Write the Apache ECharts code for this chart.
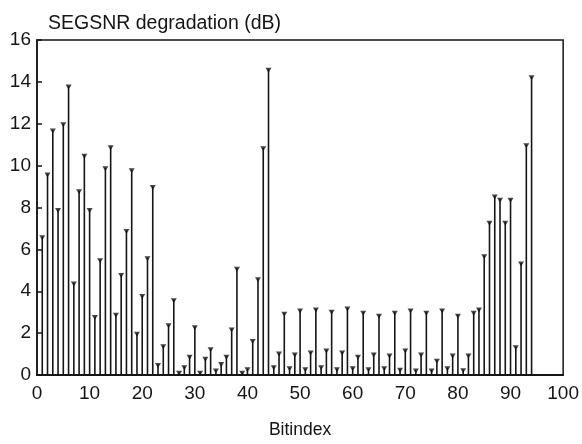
<!DOCTYPE html>
<html>
<head>
<meta charset="utf-8">
<script src="https://cdn.jsdelivr.net/npm/echarts@6/dist/echarts.min.js"></script>
<style>
  html, body { margin: 0; padding: 0; background: #ffffff; }
  #chart { width: 582px; height: 444px; }
</style>
</head>
<body>
<div id="chart"></div>
<script>
// Bit positions (x) and the SEGSNR degradation caused by an error in each bit (dB)
const bitIndex = [
  1, 2, 3, 4, 5, 6, 7, 8, 9, 10,
  11, 12, 13, 14, 15, 16, 17, 18, 19, 20,
  21, 22, 23, 24, 25, 26, 27, 28, 29, 30,
  31, 32, 33, 34, 35, 36, 37, 38, 39, 40,
  41, 42, 43, 44, 45, 46, 47, 48, 49, 50,
  51, 52, 53, 54, 55, 56, 57, 58, 59, 60,
  61, 62, 63, 64, 65, 66, 67, 68, 69, 70,
  71, 72, 73, 74, 75, 76, 77, 78, 79, 80,
  81, 82, 83, 84, 85, 86, 87, 88, 89, 90,
  91, 92, 93, 94
];
const degradation = [
  6.6, 9.6, 11.7, 7.9, 12.0, 13.8, 4.4, 8.8, 10.5, 7.9,
  2.8, 5.5, 9.9, 10.9, 2.9, 4.8, 6.9, 9.8, 2.0, 3.8,
  5.6, 9.0, 0.5, 1.4, 2.4, 3.6, 0.13, 0.4, 0.9, 2.3,
  0.13, 0.8, 1.25, 0.24, 0.55, 0.9, 2.2, 5.1, 0.13, 0.3,
  1.65, 4.6, 10.85, 14.6, 0.4, 1.05, 2.95, 0.35, 1.0, 3.1,
  0.3, 1.1, 3.15, 0.4, 1.2, 3.05, 0.3, 1.1, 3.2, 0.35,
  0.9, 3.0, 0.3, 1.0, 2.85, 0.35, 0.95, 3.0, 0.28, 1.2,
  3.1, 0.24, 1.0, 3.0, 0.24, 0.7, 3.1, 0.35, 0.95, 2.85,
  0.25, 0.95, 3.0, 3.15, 5.7, 7.3, 8.55, 8.4, 7.3, 8.4,
  1.35, 5.35, 11.0, 14.25
];
const xTicks = [0, 10, 20, 30, 40, 50, 60, 70, 80, 90, 100];
const yTicks = [0, 2, 4, 6, 8, 10, 12, 14, 16];

const points = bitIndex.map((b, i) => [b, degradation[i]]);
const ink = '#151515';
const font = 'Liberation Sans, Arial, Helvetica, sans-serif';

const chart = echarts.init(document.getElementById('chart'), null, { renderer: 'canvas' });
chart.setOption({
  animation: false,
  backgroundColor: '#ffffff',
  title: {
    text: 'SEGSNR degradation (dB)',
    left: 43,
    top: 9,
    textStyle: { fontFamily: font, fontSize: 19.5, fontWeight: 'normal', color: ink }
  },
  grid: {
    left: 37, right: 10, top: 40, bottom: 64,
    show: true, borderColor: ink, borderWidth: 1.5, backgroundColor: 'transparent'
  },
  xAxis: {
    type: 'value',
    min: xTicks[0],
    max: xTicks[xTicks.length - 1],
    interval: 10,
    name: 'Bitindex',
    nameLocation: 'middle',
    nameGap: 46,
    nameTextStyle: { fontFamily: font, fontSize: 17.5, color: ink },
    axisLine: { show: true, lineStyle: { color: ink, width: 2 } },
    axisTick: { show: false },
    splitLine: { show: false },
    axisLabel: {
      fontFamily: font, fontSize: 19, color: ink, margin: 9,
      formatter: v => (xTicks.indexOf(v) >= 0 ? String(v) : '')
    }
  },
  yAxis: {
    type: 'value',
    min: yTicks[0],
    max: yTicks[yTicks.length - 1],
    interval: 2,
    axisLine: { show: true, lineStyle: { color: ink, width: 1.5 } },
    axisTick: { show: true, inside: true, length: 5, lineStyle: { color: ink, width: 1.5 } },
    splitLine: { show: false },
    axisLabel: {
      fontFamily: font, fontSize: 19, color: ink, margin: 6,
      formatter: v => (yTicks.indexOf(v) >= 0 ? String(v) : '')
    }
  },
  series: [
    {
      // stems
      type: 'bar',
      data: points,
      barWidth: 1.6,
      itemStyle: { color: ink },
      silent: true,
      z: 2
    },
    {
      // marker heads at the top of each stem
      type: 'scatter',
      data: points,
      symbol: 'triangle',
      symbolRotate: 180,
      symbolSize: [6, 5],
      symbolOffset: [0, 1],
      itemStyle: { color: ink },
      silent: true,
      z: 3
    }
  ]
});
</script>
</body>
</html>
